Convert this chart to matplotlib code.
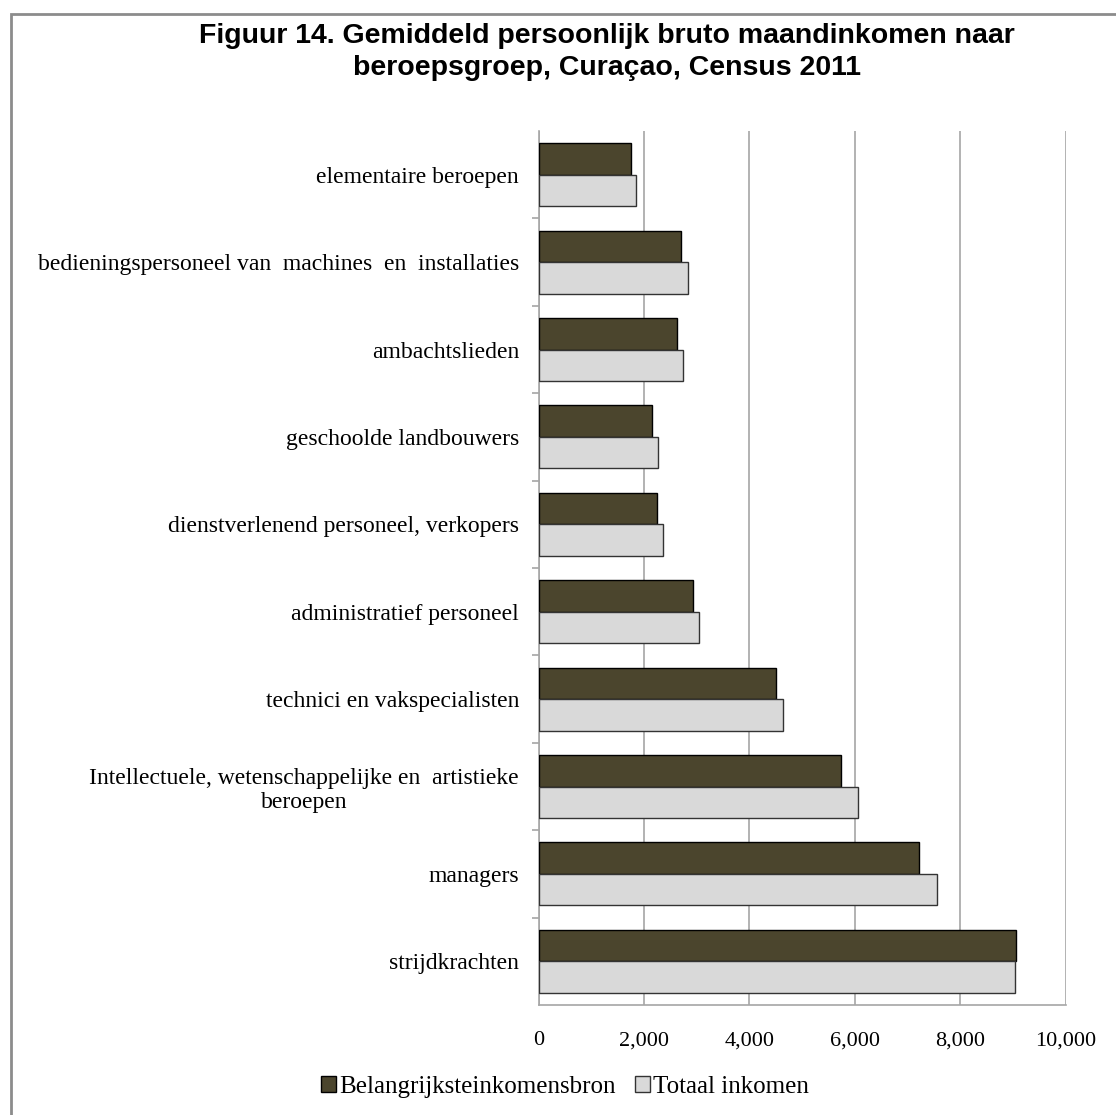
# coding=utf-8
"""Average personal gross monthly income by occupation group, Curacao 2011."""
import matplotlib
matplotlib.use('Agg')
import matplotlib.pyplot as plt
from matplotlib.patches import Patch, Rectangle

CATEGORIES = [
    'elementaire beroepen',
    'bedieningspersoneel van  machines  en  installaties',
    'ambachtslieden',
    'geschoolde landbouwers',
    'dienstverlenend personeel, verkopers',
    'administratief personeel',
    'technici en vakspecialisten',
    'Intellectuele, wetenschappelijke en  artistieke\nberoepen',
    'managers',
    'strijdkrachten',
]
MAIN_SOURCE = [1750, 2700, 2630, 2150, 2250, 2930, 4510, 5740, 7220, 9060]
TOTAL_INCOME = [1850, 2830, 2735, 2265, 2365, 3045, 4640, 6070, 7555, 9050]
SERIES_NAMES = ['Belangrijksteinkomensbron', 'Totaal inkomen']
X_TICKS = [0, 2000, 4000, 6000, 8000, 10000]

TITLE = ('Figuur 14. Gemiddeld persoonlijk bruto maandinkomen naar\n'
         'beroepsgroep, Curaçao, Census 2011')

DARK = '#4B452D'
LIGHT = '#D9D9D9'
GRID = '#A6A6A6'
SERIF = 'Liberation Serif'


def main() -> None:
    """Draw the chart and save it as out.png."""
    fig = plt.figure(figsize=(11.16, 11.15), dpi=100)
    fig.patches.append(Rectangle(
        (11 / 1116, -0.1), 1.2, 1 - 14 / 1115 + 0.1,
        transform=fig.transFigure, fill=False,
        edgecolor='#8C8C8C', linewidth=2, zorder=0,
    ))
    ax = fig.add_axes([538.5 / 1116, 1 - 1005 / 1115, 527 / 1116, 874 / 1115])

    ys = list(range(len(CATEGORIES)))
    height = 0.36
    ax.barh([y - height / 2 for y in ys], MAIN_SOURCE, height=height,
            color=DARK, edgecolor='black', linewidth=1, zorder=3)
    ax.barh([y + height / 2 for y in ys], TOTAL_INCOME, height=height,
            color=LIGHT, edgecolor='#333333', linewidth=1, zorder=3)

    ax.set_xlim(0, 10000)
    ax.set_ylim(len(CATEGORIES) - 0.5, -0.5)
    ax.set_xticks(X_TICKS)
    ax.set_xticklabels([f'{v:,}' for v in X_TICKS], family=SERIF, fontsize=16)
    ax.tick_params(axis='x', length=0, pad=19)
    ax.xaxis.grid(True, color=GRID, linewidth=1.2, zorder=0)

    ax.set_yticks(ys)
    ax.set_yticklabels(CATEGORIES, family=SERIF, fontsize=17)
    for label in ax.get_yticklabels():
        label.set_multialignment('center')
    ax.tick_params(axis='y', which='major', length=0, pad=14)
    ax.set_yticks([y + 0.5 for y in ys[:-1]], minor=True)
    ax.tick_params(axis='y', which='minor', length=5, color=GRID, width=1.2)

    for side in ('top', 'right'):
        ax.spines[side].set_visible(False)
    for side in ('left', 'bottom'):
        ax.spines[side].set_color(GRID)
        ax.spines[side].set_linewidth(1.2)

    fig.text(607 / 1116, 1 - 52 / 1115, TITLE, ha='center', va='center',
             family='Liberation Sans', weight='bold', fontsize=20.5,
             linespacing=1.3)

    handles = [
        Patch(facecolor=DARK, edgecolor='black', linewidth=1),
        Patch(facecolor=LIGHT, edgecolor='#333333', linewidth=1),
    ]
    fig.legend(handles, SERIES_NAMES, loc='center',
               bbox_to_anchor=(565 / 1116, 1 - 1087 / 1115), ncol=2,
               frameon=False, prop={'family': SERIF, 'size': 18},
               handlelength=0.6, handleheight=0.6, handletextpad=0.1,
               columnspacing=0.8)

    fig.savefig('out.png', dpi=100)


if __name__ == '__main__':
    main()
